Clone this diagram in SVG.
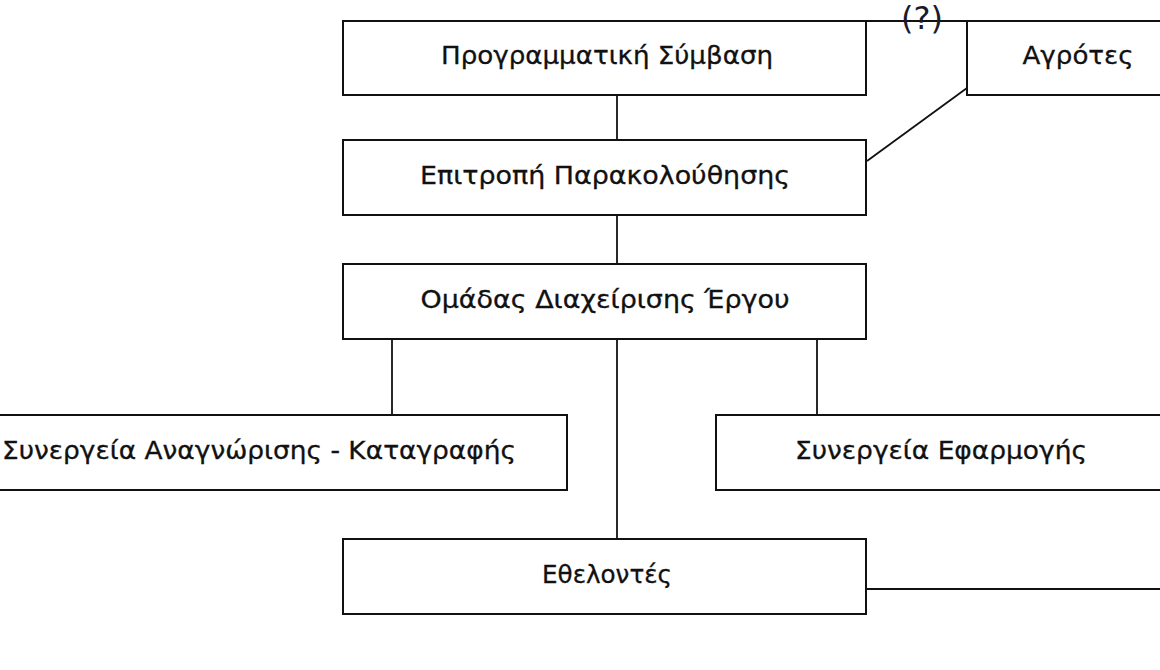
<svg xmlns="http://www.w3.org/2000/svg" width="1160" height="670" viewBox="0 0 1160 670">
<style>
.box{fill:#fff;stroke:#111;stroke-width:2}
.lbl{font-family:"DejaVu Sans","Liberation Sans",sans-serif;font-size:24px;fill:#111;stroke:#111;stroke-width:0.3;text-anchor:middle;dominant-baseline:central}
.con{stroke:#111;stroke-width:1.8;fill:none}
</style>
<rect width="1160" height="670" fill="#fff"/>
<g id="connectors">
<line class="con" x1="617" y1="95" x2="617" y2="140"/>
<line class="con" x1="617" y1="215" x2="617" y2="264"/>
<line class="con" x1="392" y1="339" x2="392" y2="415"/>
<line class="con" x1="617" y1="339" x2="617" y2="539"/>
<line class="con" x1="817" y1="339" x2="817" y2="415"/>
<line class="con" x1="866" y1="589" x2="1165" y2="589"/>
<line class="con" x1="866" y1="21" x2="967" y2="21"/>
<line class="con" x1="867" y1="161" x2="967" y2="88" stroke-width="1.2"/>
<text x="922" y="18" style="font-family:'DejaVu Sans','Liberation Sans',sans-serif;font-size:32px;fill:#1a1a2e;text-anchor:middle;dominant-baseline:central">(?)</text>
</g>
<g id="n1"><rect class="box" x="343" y="21" width="523" height="74"/><text class="lbl" x="607" y="56" textLength="332" lengthAdjust="spacingAndGlyphs">Προγραμματική Σύμβαση</text></g>
<g id="n2"><rect class="box" x="343" y="140" width="523" height="75"/><text class="lbl" x="605" y="176" textLength="370" lengthAdjust="spacingAndGlyphs">Επιτροπή Παρακολούθησης</text></g>
<g id="n3"><rect class="box" x="343" y="264" width="523" height="75"/><text class="lbl" x="605" y="300" textLength="369" lengthAdjust="spacingAndGlyphs">Ομάδας Διαχείρισης Έργου</text></g>
<g id="n4"><rect class="box" x="-60" y="415" width="627" height="75"/><text class="lbl" x="259" y="451" textLength="514" lengthAdjust="spacingAndGlyphs">Συνεργεία Αναγνώρισης - Καταγραφής</text></g>
<g id="n5"><rect class="box" x="716" y="415" width="460" height="75"/><text class="lbl" x="941" y="451" textLength="292" lengthAdjust="spacingAndGlyphs">Συνεργεία Εφαρμογής</text></g>
<g id="n6"><rect class="box" x="343" y="539" width="523" height="75"/><text class="lbl" x="607" y="575" textLength="130" lengthAdjust="spacingAndGlyphs">Εθελοντές</text></g>
<g id="n7"><rect class="box" x="967" y="21" width="223" height="74"/><text class="lbl" x="1078" y="56" textLength="111" lengthAdjust="spacingAndGlyphs">Αγρότες</text></g>
</svg>
